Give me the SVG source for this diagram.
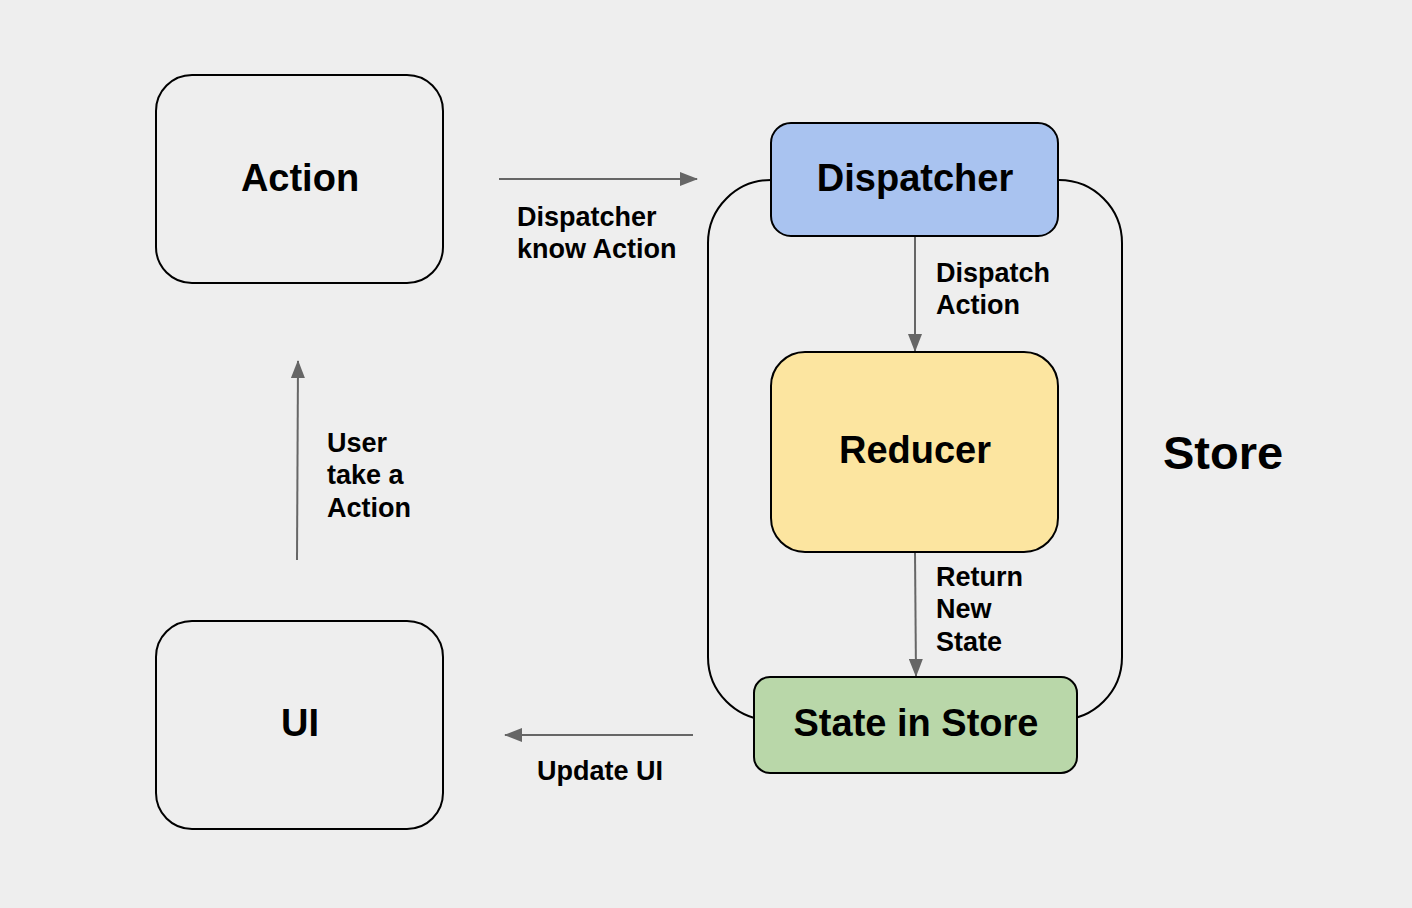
<svg xmlns="http://www.w3.org/2000/svg" width="1412" height="908" viewBox="0 0 1412 908">
<defs>
<marker id="ah" viewBox="0 0 18 14" refX="17" refY="7" markerWidth="18" markerHeight="14" markerUnits="userSpaceOnUse" orient="auto">
<path d="M0,0 L18,7 L0,14 Z" fill="#666666"/>
</marker>
<style>
.box{stroke:#000;stroke-width:2}
.t{font-family:"Liberation Sans",Arial,sans-serif;font-weight:bold;fill:#000}
.big{font-size:38px;text-anchor:middle}
.lab{font-size:27px}
.edge{stroke:#666666;stroke-width:2;fill:none;marker-end:url(#ah)}
</style>
</defs>
<rect width="1412" height="908" fill="#eeeeee"/>
<g id="store">
<rect x="708" y="180" width="414" height="540" rx="63" ry="63" fill="none" stroke="#000" stroke-width="2"/>
<text class="t" x="1223" y="469" font-size="47" text-anchor="middle">Store</text>
</g>
<g id="edges">
<line class="edge" x1="499" y1="179" x2="697" y2="179"/>
<line class="edge" x1="915" y1="236" x2="915" y2="351"/>
<line class="edge" x1="915" y1="552" x2="916" y2="676"/>
<line class="edge" x1="297" y1="560" x2="298" y2="361"/>
<line class="edge" x1="693" y1="735" x2="505" y2="735"/>
<text class="t lab" x="517" y="226">Dispatcher</text>
<text class="t lab" x="517" y="258">know Action</text>
<text class="t lab" x="936" y="282">Dispatch</text>
<text class="t lab" x="936" y="314">Action</text>
<text class="t lab" x="936" y="586">Return</text>
<text class="t lab" x="936" y="618">New</text>
<text class="t lab" x="936" y="651">State</text>
<text class="t lab" x="327" y="452">User</text>
<text class="t lab" x="327" y="484">take a</text>
<text class="t lab" x="327" y="517">Action</text>
<text class="t lab" x="600" y="780" text-anchor="middle">Update UI</text>
</g>
<g id="action">
<rect class="box" x="156" y="75" width="287" height="208" rx="36" fill="none"/>
<text class="t big" x="300" y="191">Action</text>
</g>
<g id="ui">
<rect class="box" x="156" y="621" width="287" height="208" rx="36" fill="none"/>
<text class="t big" x="300" y="736">UI</text>
</g>
<g id="dispatcher">
<rect class="box" x="771" y="123" width="287" height="113" rx="20" fill="#a9c3f0"/>
<text class="t big" x="915" y="191">Dispatcher</text>
</g>
<g id="reducer">
<rect class="box" x="771" y="352" width="287" height="200" rx="34" fill="#fce5a0"/>
<text class="t big" x="915" y="463">Reducer</text>
</g>
<g id="state">
<rect class="box" x="754" y="677" width="323" height="96" rx="16" fill="#b9d7a9"/>
<text class="t big" x="916" y="736">State in Store</text>
</g>
</svg>
